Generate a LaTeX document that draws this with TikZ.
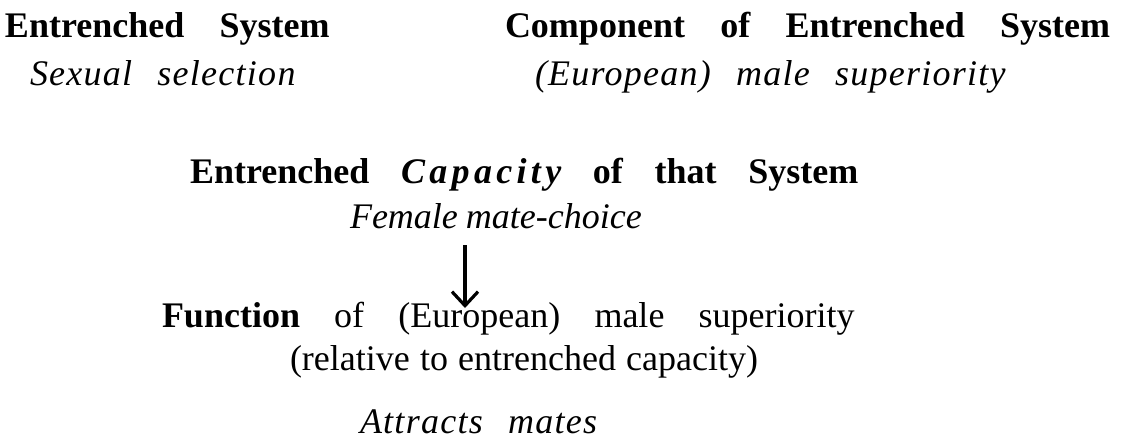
\documentclass[tikz,border=0pt]{standalone}
\usepackage{fontspec}
\setmainfont{Liberation Serif}
\usetikzlibrary{arrows.meta, positioning}

\begin{document}
\begin{tikzpicture}[
    x=1pt, y=1pt,
    font=\fontsize{36}{42}\selectfont,
    txt/.style={anchor=base west, inner sep=0pt, outer sep=0pt},
    gap/.style={execute at begin node={\spaceskip=#1\relax}},
    head/.style={txt, gap=0.98em, font=\fontsize{36}{42}\selectfont\bfseries},
    ex/.style={txt, gap=0.7em, font=\fontsize{36}{42}\selectfont\itshape\addfontfeature{LetterSpace=3.5}},
    arr/.style={-{Straight Barb[length=14pt, width=26pt]}, line width=3.2pt}
  ]
  \useasboundingbox (0,0) rectangle (1121,-440);

  % ===== Top row =====
  \node[head] (sys)    at (5,-37)   {Entrenched System};
  \node[ex]   (sysex)  at (30,-85)  {Sexual selection};
  \node[head] (comp)   at (505,-37) {Component of Entrenched System};
  \node[ex]   (compex) at (535,-85) {(European) male superiority};

  % ===== Capacity =====
  \node[head, gap=0.88em] (cap) at (190,-183)
    {Entrenched {\itshape\addfontfeature{LetterSpace=12}Capacity} of that System};
  \node[txt, gap=0.22em, font=\fontsize{36}{42}\selectfont\itshape] (capex) at (350,-228)
    {Female mate-choice};

  % ===== Function =====
  \node[txt, gap=0.95em] (fun) at (162,-327)
    {\textbf{Function} of (European) male superiority};
  \node[txt, gap=0.28em] (rel) at (290,-370) {(relative to entrenched capacity)};
  \node[ex]  (funex) at (360,-433) {Attracts mates};

  % Connection
  \coordinate (atail) at (465,-245);
  \draw[arr, shorten >=19pt] (atail) -- (atail |- fun.base);
\end{tikzpicture}
\end{document}
